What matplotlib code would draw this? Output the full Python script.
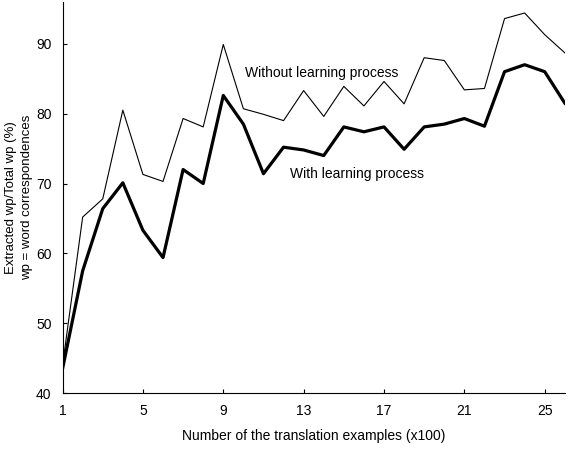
import matplotlib
matplotlib.use("Agg")
import matplotlib.pyplot as plt

examples = list(range(1, 27))
without_learning = [44.0, 65.2, 67.8, 80.5, 71.3, 70.3, 79.3, 78.1, 89.9, 80.7,
                    79.9, 79.0, 83.3, 79.6, 83.9, 81.1, 84.6, 81.4, 88.0, 87.6,
                    83.4, 83.6, 93.6, 94.4, 91.3, 88.7]
with_learning = [43.5, 57.5, 66.4, 70.1, 63.3, 59.4, 72.0, 70.0, 82.6, 78.5,
                 71.4, 75.2, 74.8, 74.0, 78.1, 77.4, 78.1, 74.9, 78.1, 78.5,
                 79.3, 78.2, 86.0, 87.0, 86.0, 81.5]
xticks = [1, 5, 9, 13, 17, 21, 25]
yticks = [40, 50, 60, 70, 80, 90]

plt.rcParams['font.family'] = ['Liberation Sans', 'DejaVu Sans']

fig = plt.figure(figsize=(5.74, 4.54), dpi=100)
ax = fig.add_axes([0.109, 0.134, 0.875, 0.862])

ax.plot(examples, without_learning, color="black", linewidth=0.8)
ax.plot(examples, with_learning, color="black", linewidth=2.3)

ax.text(10.1, 85.8, "Without learning process", fontsize=10, va="center")
ax.text(12.3, 71.4, "With learning process", fontsize=10, va="center")

ax.set_xlim(1, 26)
ax.set_ylim(40, 96)
ax.set_xticks(xticks)
ax.set_yticks(yticks)
ax.tick_params(direction="in", length=3, labelsize=10, pad=8)
ax.spines["top"].set_visible(False)
ax.spines["right"].set_visible(False)

ax.set_xlabel("Number of the translation examples (x100)", fontsize=10, labelpad=8)
ax.set_ylabel("Extracted wp/Total wp (%)\nwp = word correspondences", fontsize=9.5,
              linespacing=1.5, labelpad=2)

fig.savefig("out.png", dpi=100)
